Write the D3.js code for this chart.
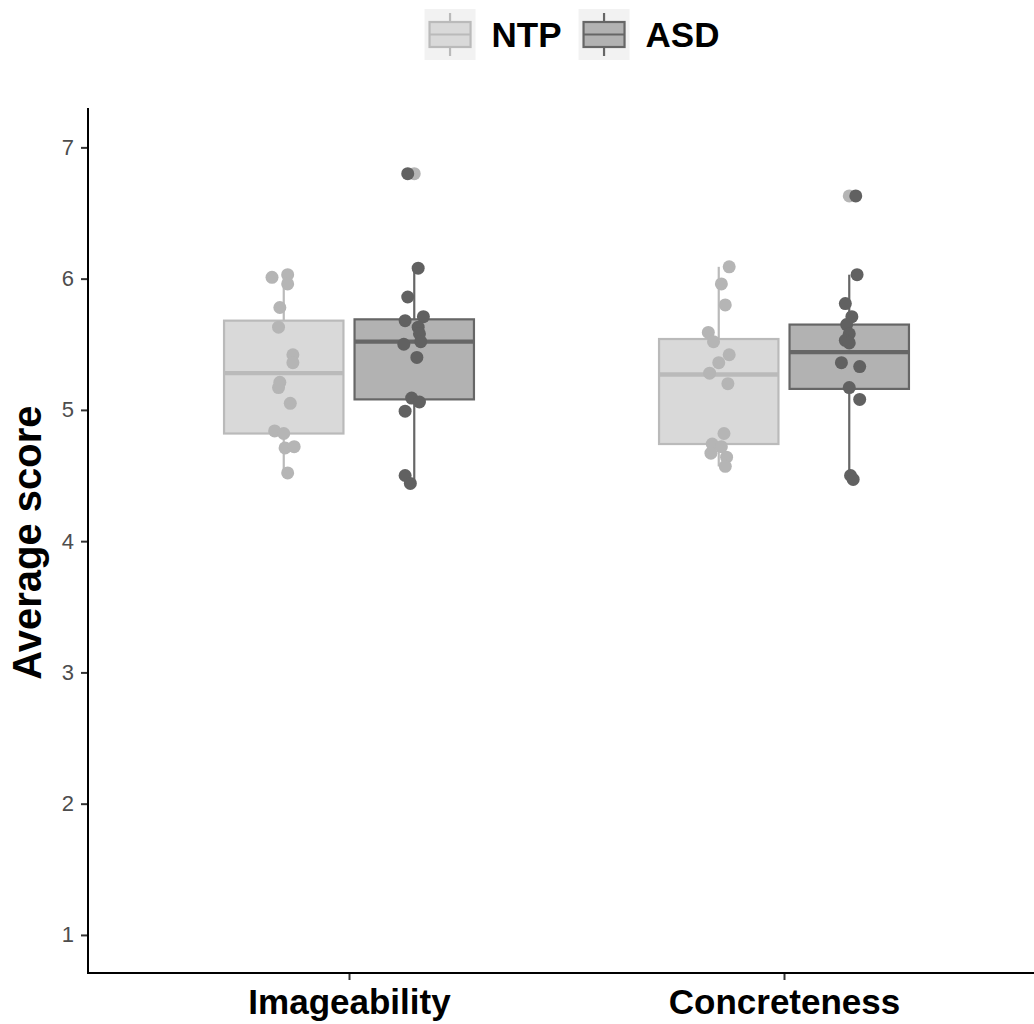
<!DOCTYPE html>
<html>
<head>
<meta charset="utf-8">
<script src="https://cdn.jsdelivr.net/npm/d3@7"></script>
<style>
  body { margin: 0; background: #fff; }
  svg { display: block; font-family: "Liberation Sans", Arial, sans-serif; }
</style>
</head>
<body>
<svg id="chart"></svg>
<script>
// categories and groups
const categories = ["Imageability", "Concreteness"];
const groups = ["NTP", "ASD"];
const yTicks = [1, 2, 3, 4, 5, 6, 7];

// box stats: [whiskerLo, q1, median, q3, whiskerHi]
const boxNTP = [[4.52, 4.82, 5.28, 5.68, 6.03], [4.57, 4.74, 5.27, 5.54, 6.09]];
const boxASD = [[4.44, 5.08, 5.52, 5.69, 6.08], [4.47, 5.16, 5.44, 5.65, 6.03]];
const outliersASD = [[6.80], [6.63]];

// individual scores (jittered points)
const ntpImageability = [6.01, 6.03, 5.96, 5.78, 5.63, 5.42, 5.36, 5.21, 5.17, 5.05, 4.84, 4.82, 4.71, 4.72, 4.52];
const asdImageability = [6.80, 6.08, 5.86, 5.68, 5.71, 5.63, 5.58, 5.52, 5.50, 5.40, 5.09, 5.06, 4.99, 4.50, 4.44];
const ntpConcreteness = [6.09, 5.96, 5.80, 5.59, 5.52, 5.42, 5.36, 5.28, 5.20, 4.82, 4.74, 4.72, 4.67, 4.64, 4.57];
const asdConcreteness = [6.63, 6.03, 5.81, 5.71, 5.65, 5.58, 5.53, 5.51, 5.36, 5.33, 5.17, 5.08, 4.50, 4.47];

// horizontal jitter (fraction of dodge band)
const jitNtpImageability = [-0.09, 0.03, 0.03, -0.03, -0.04, 0.07, 0.07, -0.03, -0.04, 0.05, -0.07, 0.00, 0.01, 0.08, 0.03];
const jitAsdImageability = [-0.05, 0.03, -0.05, -0.07, 0.07, 0.03, 0.04, 0.05, -0.08, 0.02, -0.02, 0.04, -0.07, -0.07, -0.03];
const jitNtpConcreteness = [0.08, 0.02, 0.05, -0.08, -0.04, 0.08, 0.00, -0.07, 0.07, 0.04, -0.05, 0.02, -0.06, 0.06, 0.05];
const jitAsdConcreteness = [0.05, 0.06, -0.03, 0.02, -0.02, 0.00, -0.03, 0.00, -0.06, 0.08, 0.00, 0.08, 0.01, 0.03];

const width = 1034, height = 1024;
const margin = {left: 88, top: 108, right: -11, bottom: 51};

const colors = {
  NTP: {fill: "#d9d9d9", stroke: "#bababa", point: "#b5b5b5"},
  ASD: {fill: "#b2b2b2", stroke: "#666666", point: "#616161"}
};

// build tables for drawing
const boxes = [];
categories.forEach((c, i) => {
  boxes.push({cat: c, group: "NTP", s: boxNTP[i], out: []});
  boxes.push({cat: c, group: "ASD", s: boxASD[i], out: outliersASD[i]});
});
const pts = [];
const addPts = (cat, group, vals, jit) => vals.forEach((v, i) => pts.push({cat, group, v, j: jit[i]}));
addPts("Imageability", "NTP", ntpImageability, jitNtpImageability);
addPts("Imageability", "ASD", asdImageability, jitAsdImageability);
addPts("Concreteness", "NTP", ntpConcreteness, jitNtpConcreteness);
addPts("Concreteness", "ASD", asdConcreteness, jitAsdConcreteness);

const svg = d3.select("#chart").attr("width", width).attr("height", height);

const x = d3.scalePoint()
    .domain(categories)
    .range([margin.left, width - margin.right])
    .padding(0.6);
const dodge = d3.scaleBand()
    .domain(groups)
    .range([-0.3 * x.step(), 0.3 * x.step()]);
const y = d3.scaleLinear()
    .domain([0.71, 7.30])
    .range([height - margin.bottom, margin.top]);

const bw = dodge.bandwidth() * 0.915;
const cx = d => x(d.cat) + dodge(d.group) + dodge.bandwidth() / 2;

// boxes
const gBox = svg.append("g");
const box = gBox.selectAll("g").data(boxes).enter().append("g");
box.append("line")
    .attr("x1", cx).attr("x2", cx)
    .attr("y1", d => y(d.s[0])).attr("y2", d => y(d.s[1]))
    .attr("stroke", d => colors[d.group].stroke).attr("stroke-width", 2.2);
box.append("line")
    .attr("x1", cx).attr("x2", cx)
    .attr("y1", d => y(d.s[3])).attr("y2", d => y(d.s[4]))
    .attr("stroke", d => colors[d.group].stroke).attr("stroke-width", 2.2);
box.append("rect")
    .attr("x", d => cx(d) - bw / 2).attr("width", bw)
    .attr("y", d => y(d.s[3])).attr("height", d => y(d.s[1]) - y(d.s[3]))
    .attr("fill", d => colors[d.group].fill)
    .attr("stroke", d => colors[d.group].stroke).attr("stroke-width", 2.2);
box.append("line")
    .attr("x1", d => cx(d) - bw / 2).attr("x2", d => cx(d) + bw / 2)
    .attr("y1", d => y(d.s[2])).attr("y2", d => y(d.s[2]))
    .attr("stroke", d => colors[d.group].stroke).attr("stroke-width", 4.4);
box.selectAll("circle.out").data(d => d.out.map(v => ({v, d}))).enter().append("circle")
    .attr("class", "out")
    .attr("cx", o => cx(o.d)).attr("cy", o => y(o.v)).attr("r", 6.5)
    .attr("fill", colors.NTP.point);

// jittered points
svg.append("g").selectAll("circle").data(pts).enter().append("circle")
    .attr("cx", d => cx(d) + d.j * dodge.bandwidth())
    .attr("cy", d => y(d.v))
    .attr("r", 6.5)
    .attr("fill", d => colors[d.group].point);

// axes
const yAxis = d3.axisLeft(y).tickValues(yTicks).tickFormat(d3.format("d")).tickSize(7).tickPadding(7);
const gy = svg.append("g").attr("transform", `translate(${margin.left},0)`).call(yAxis)
    .attr("font-family", null);
gy.select(".domain").remove();
gy.selectAll(".tick line").attr("stroke", "#333").attr("stroke-width", 2);
gy.selectAll(".tick text").attr("fill", "#4d4d4d").attr("font-size", 22);

const xAxis = d3.axisBottom(x).tickSize(7).tickPadding(9);
const gx = svg.append("g").attr("transform", `translate(0,${height - margin.bottom})`).call(xAxis)
    .attr("font-family", null);
gx.select(".domain").remove();
gx.selectAll(".tick line").attr("stroke", "#333").attr("stroke-width", 2);
gx.selectAll(".tick text").attr("fill", "#000").attr("font-size", 35).attr("font-weight", "bold");

svg.append("line")
    .attr("x1", margin.left).attr("x2", margin.left)
    .attr("y1", margin.top).attr("y2", height - margin.bottom + 1)
    .attr("stroke", "#000").attr("stroke-width", 2);
svg.append("line")
    .attr("x1", margin.left - 1).attr("x2", width)
    .attr("y1", height - margin.bottom).attr("y2", height - margin.bottom)
    .attr("stroke", "#000").attr("stroke-width", 2);

svg.append("text")
    .attr("transform", `translate(41,${(margin.top + height - margin.bottom) / 2 + 2}) rotate(-90)`)
    .attr("text-anchor", "middle")
    .attr("font-size", 40).attr("font-weight", "bold")
    .text("Average score");

// legend
const keySize = 51;
const legend = svg.append("g");
const items = legend.selectAll("g").data(groups).enter().append("g");
items.append("rect")
    .attr("width", keySize).attr("height", keySize).attr("fill", "#f2f2f2");
items.append("line")
    .attr("x1", keySize / 2).attr("x2", keySize / 2).attr("y1", 4).attr("y2", keySize - 4)
    .attr("stroke", g => colors[g].stroke).attr("stroke-width", 2.2);
items.append("rect")
    .attr("x", 5).attr("y", 13).attr("width", keySize - 10).attr("height", 25)
    .attr("fill", g => colors[g].fill).attr("stroke", g => colors[g].stroke).attr("stroke-width", 2.2);
items.append("line")
    .attr("x1", 5).attr("x2", keySize - 5).attr("y1", 25.5).attr("y2", 25.5)
    .attr("stroke", g => colors[g].stroke).attr("stroke-width", 2.2);
items.append("text")
    .attr("x", keySize + 16).attr("y", keySize / 2 + 12.5)
    .attr("font-size", 35).attr("font-weight", "bold")
    .text(g => g);
let lx = 0;
items.each(function () {
  d3.select(this).attr("transform", `translate(${lx},0)`);
  lx += this.getBBox().width + 17;
});
const legendW = lx - 17;
legend.attr("transform", `translate(${572 - legendW / 2},9)`);
</script>
</body>
</html>
